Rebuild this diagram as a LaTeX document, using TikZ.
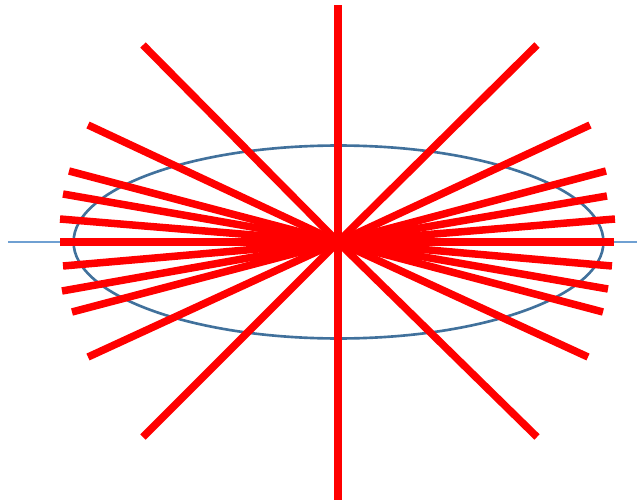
\documentclass[tikz,border=0pt]{standalone}
\definecolor{rimblue}{HTML}{41719C}
\definecolor{axisblue}{HTML}{6FA0D2}
\begin{document}
\begin{tikzpicture}[x=0.02cm, y=-0.02cm,
    ray/.style={red, line width=0.15cm},
    rim/.style={draw=rimblue, line width=1.5pt},
    axisline/.style={draw=axisblue, line width=0.6pt},
  ]
  \useasboundingbox (0,0) rectangle (637,504);
  \coordinate (c) at (338,242);
  \coordinate (axl) at (8,242);
  \coordinate (axr) at (637,242);

  % Horizontal axis and ellipse
  \draw[axisline] (axl) -- (axr);
  \draw[rim] (338.5,242) ellipse [x radius=5.3cm, y radius=1.93cm];

  % Rays from the centre
  \foreach \p in {(338,5), (338,500),
                  (143,45), (537,45), (143,437), (537,437),
                  (88,125), (590,125), (88,357), (588,357),
                  (69,171), (606,171), (72,312), (603,312),
                  (63,194), (607,196), (62,291), (608,289),
                  (60,219), (615,219), (63,266), (612,266),
                  (60,242), (614,242)}
    \draw[ray] (c) -- \p;
\end{tikzpicture}
\end{document}
